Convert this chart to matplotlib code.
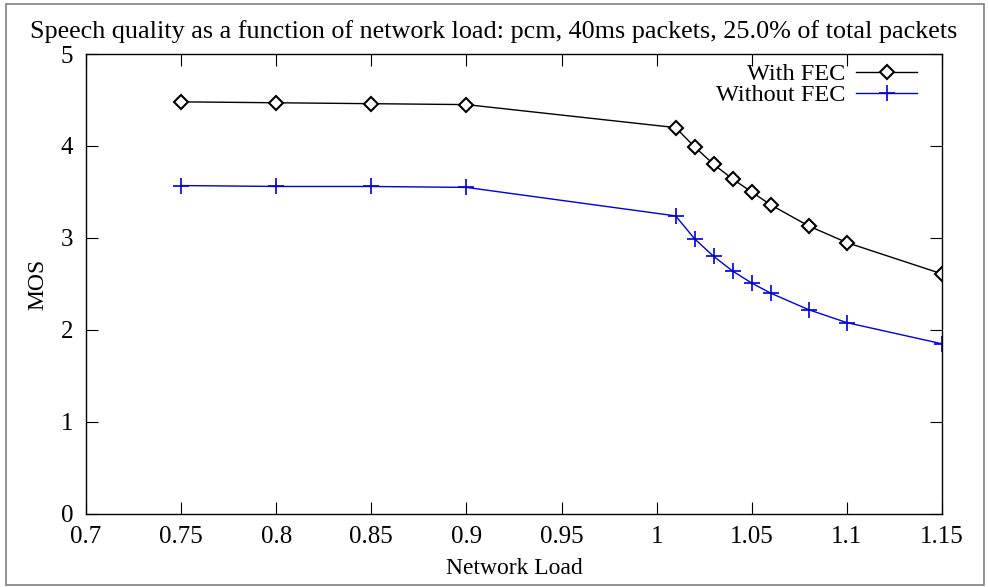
import matplotlib
matplotlib.use("Agg")
import matplotlib.pyplot as plt
from matplotlib.patches import Rectangle

# data
load = [0.75, 0.8, 0.85, 0.9, 1.01, 1.02, 1.03, 1.04, 1.05, 1.06, 1.08, 1.1, 1.15]
mos_fec = [4.48, 4.47, 4.46, 4.45, 4.20, 3.99, 3.80, 3.64, 3.50, 3.36, 3.13, 2.95, 2.61]
mos_nofec = [3.57, 3.56, 3.56, 3.55, 3.24, 2.99, 2.80, 2.64, 2.51, 2.40, 2.22, 2.08, 1.85]

x_ticks = [0.7, 0.75, 0.8, 0.85, 0.9, 0.95, 1.0, 1.05, 1.1, 1.15]
x_labels = ["0.7", "0.75", "0.8", "0.85", "0.9", "0.95", "1", "1.05", "1.1", "1.15"]
y_ticks = [0, 1, 2, 3, 4, 5]

plt.rcParams["font.family"] = ["Liberation Serif", "DejaVu Serif"]

fig = plt.figure(figsize=(9.88, 5.87), dpi=100)
ax = fig.add_axes([0.087, 0.1244, 0.8664, 0.7836])

ax.plot(load, mos_fec, color="black", linewidth=1.0, marker="D", markersize=7,
        markerfacecolor="white", markeredgecolor="black", markeredgewidth=1.5,
        label="With FEC")
ax.plot(load, mos_nofec, color="#0000cc", linewidth=1.0, marker="+", markersize=12,
        markeredgewidth=1.2, label="Without FEC")

ax.set_xlim(0.7, 1.15)
ax.set_ylim(0, 5)
ax.set_xticks(x_ticks)
ax.set_xticklabels(x_labels)
ax.set_yticks(y_ticks)
ax.tick_params(direction="in", length=8.5, width=0.8, top=True, right=True,
               labelsize=18)
ax.tick_params(axis="x", pad=9)
ax.tick_params(axis="y", pad=9)
for s in ax.spines.values():
    s.set_linewidth(1.0)

ax.set_xlabel("Network Load", fontsize=17, labelpad=7)
ax.set_ylabel("MOS", fontsize=17, labelpad=9)
fig.text(0.5, 0.946, "Speech quality as a function of network load: pcm, 40ms packets, 25.0% of total packets",
         fontsize=18.8, ha="center", va="center")

ax.legend(loc="upper right", frameon=False, markerfirst=False, fontsize=17.5,
          handlelength=2.5, handletextpad=0.45, labelspacing=-0.05,
          borderpad=0, borderaxespad=0, bbox_to_anchor=(0.971, 0.98))

# grey frame around the whole picture
fig.patches.append(Rectangle((0.006, 0.004), 0.99, 0.99, transform=fig.transFigure,
                             fill=False, edgecolor="#808080", linewidth=1.2))

plt.savefig("out.png", dpi=100)
